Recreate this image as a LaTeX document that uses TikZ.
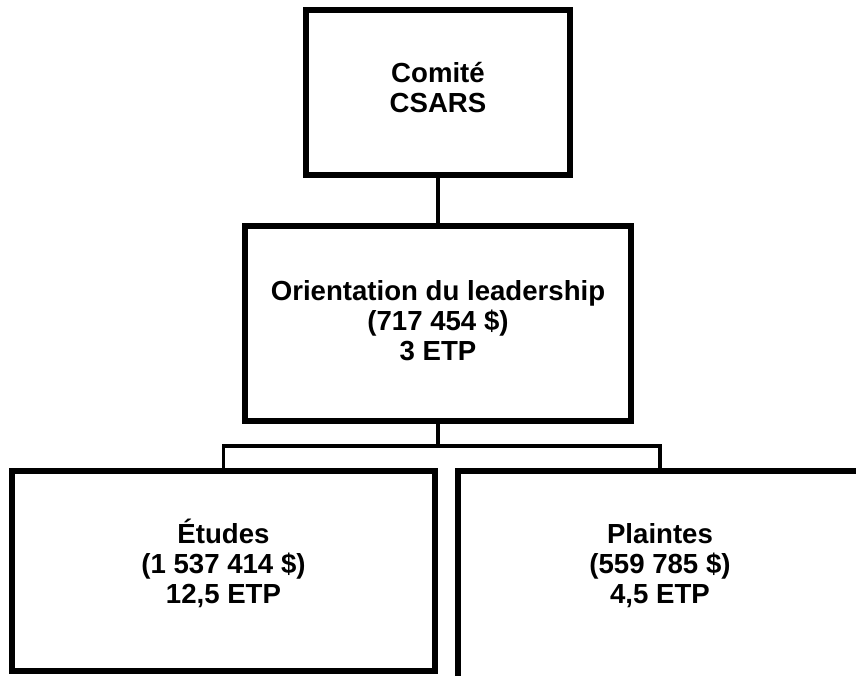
\documentclass[tikz,border=0pt]{standalone}
\usepackage{fontspec}
\setmainfont{Liberation Sans}

\begin{document}
\begin{tikzpicture}
  [x=1pt, y=-1pt,
   unit box/.style={rectangle, draw, line width=5.8pt, inner sep=0pt, align=center,
     font=\bfseries\fontsize{27.6}{30}\selectfont},
   link/.style={line width=3.3pt}]
  \useasboundingbox (0,0) rectangle (856,675);
  \clip (0,0) rectangle (856,675);

  \node[unit box, minimum width=264pt, minimum height=165pt, text height=50pt, text depth=11pt] (comite) at (438,92.5) {Comité\\CSARS};
  \node[unit box, minimum width=386pt, minimum height=195pt, text height=80pt, text depth=7pt] (lead) at (438,323.5) {Orientation du leadership\\(717 454 \$)\\3 ETP};
  \node[unit box, minimum width=423pt, minimum height=200pt, text height=80pt, text depth=16pt] (etudes) at (223.5,571) {Études\\(1 537 414 \$)\\12,5 ETP};
  \node[unit box, minimum width=404pt, minimum height=220pt, text height=80pt, text depth=36pt] (plaintes) at (660,581) {Plaintes\\(559 785 \$)\\4,5 ETP};
  \coordinate (fork) at (438,446);

  \path (comite) edge[link] (lead);
  \draw[link] (lead) -- (fork);
  \draw[link] (etudes) |- (fork) -| (plaintes);
\end{tikzpicture}
\end{document}
